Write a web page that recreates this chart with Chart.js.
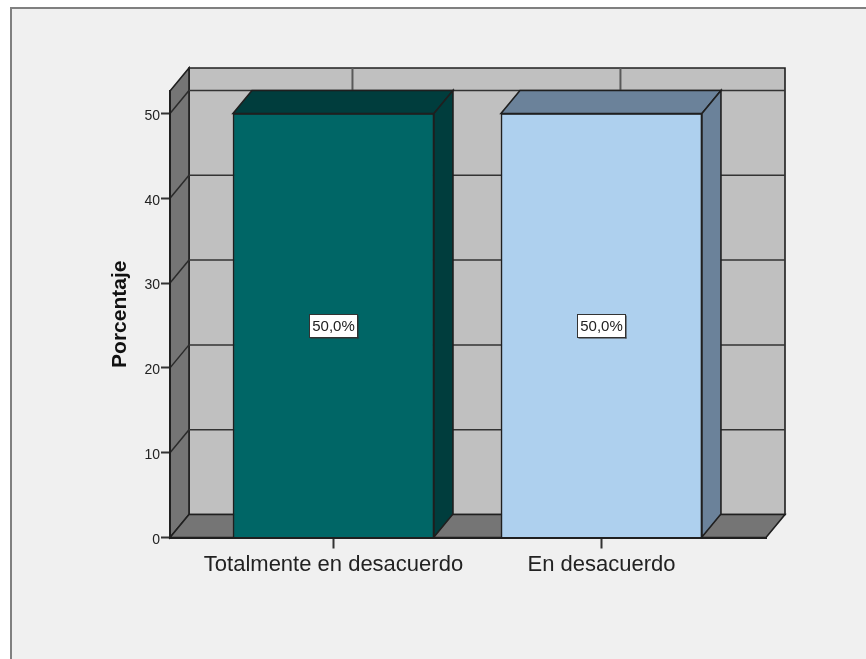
<!DOCTYPE html>
<html>
<head>
<meta charset="utf-8">
<script src="https://cdn.jsdelivr.net/npm/chart.js@4"></script>
<style>
  html, body { margin: 0; padding: 0; background: #fff; overflow: hidden; }
  #frame { position: absolute; left: 10px; top: 7px; right: 0; bottom: 0; background: #f0f0f0;
           border-left: 2px solid #808080; border-top: 2px solid #808080; }
  canvas { position: absolute; left: 0; top: 0; }
</style>
</head>
<body>
<div id="frame"></div>
<canvas id="chart" width="866" height="659"></canvas>
<script>
const categories = ['Totalmente en desacuerdo', 'En desacuerdo'];
const values = [50, 50];
const valueLabels = ['50,0%', '50,0%'];
const yTicks = [0, 10, 20, 30, 40, 50];
const yTop = 52.65;

const frontColors = ['#006666', '#aed0ee'];
const shadeColors = ['#003d3d', '#6b829a'];
const lineColor = '#1f1f1f';
const depthX = 19;
const depthY = 23;

function poly(ctx, pts, fill, stroke, width) {
  ctx.beginPath();
  pts.forEach((p, i) => i ? ctx.lineTo(p[0], p[1]) : ctx.moveTo(p[0], p[1]));
  ctx.closePath();
  if (fill) { ctx.fillStyle = fill; ctx.fill(); }
  ctx.strokeStyle = stroke || lineColor;
  ctx.lineWidth = width || 1.6;
  ctx.stroke();
}

function seg(ctx, x1, y1, x2, y2, color, width) {
  ctx.beginPath();
  ctx.moveTo(x1, y1);
  ctx.lineTo(x2, y2);
  ctx.strokeStyle = color;
  ctx.lineWidth = width;
  ctx.stroke();
}

// back wall, left wall and floor go under the axes
const walls = {
  id: 'walls',
  beforeDraw(chart) {
    const { ctx, chartArea: a, scales } = chart;
    const y = scales.y, x = scales.x;
    ctx.save();
    poly(ctx, [[a.left + depthX, a.top - depthY], [a.right + depthX, a.top - depthY],
               [a.right + depthX, a.bottom - depthY], [a.left + depthX, a.bottom - depthY]], '#c0c0c0');
    poly(ctx, [[a.left, a.top], [a.left + depthX, a.top - depthY],
               [a.left + depthX, a.bottom - depthY], [a.left, a.bottom]], '#757575');
    poly(ctx, [[a.left, a.bottom], [a.left + depthX, a.bottom - depthY],
               [a.right + depthX, a.bottom - depthY], [a.right, a.bottom]], '#757575');
    yTicks.slice(1).forEach(v => {
      const py = y.getPixelForValue(v);
      seg(ctx, a.left, py, a.left + depthX, py - depthY, '#2a2a2a', 1.5);
      seg(ctx, a.left + depthX, py - depthY, a.right + depthX, py - depthY, '#333', 1.5);
    });
    categories.forEach((c, i) => {
      const px = x.getPixelForValue(i) + depthX;
      seg(ctx, px, a.top - depthY, px, a.top, '#5a5a5a', 2);
    });
    ctx.restore();
  }
};

// top and side of each bar, plus the value box in the middle of the front
const barFaces = {
  id: 'barFaces',
  afterDatasetsDraw(chart) {
    const { ctx } = chart;
    const y = chart.scales.y;
    ctx.save();
    chart.getDatasetMeta(0).data.forEach((bar, i) => {
      const l = bar.x - bar.width / 2, r = bar.x + bar.width / 2;
      poly(ctx, [[l, bar.y], [l + depthX, bar.y - depthY], [r + depthX, bar.y - depthY], [r, bar.y]], shadeColors[i]);
      poly(ctx, [[r, bar.y], [r + depthX, bar.y - depthY], [r + depthX, bar.base - depthY], [r, bar.base]], shadeColors[i]);

      const cy = y.getPixelForValue(values[i] / 2);
      const bw = 48, bh = 23;
      const bx = Math.round(bar.x - bw / 2) + 0.5, by = Math.round(cy - bh / 2) + 0.5;
      ctx.fillStyle = '#fff';
      ctx.fillRect(bx, by, bw, bh);
      ctx.strokeStyle = '#333';
      ctx.lineWidth = 1;
      ctx.strokeRect(bx, by, bw, bh);
      seg(ctx, bx + 1, by + bh + 0.5, bx + bw + 1, by + bh + 0.5, '#333', 1);
      seg(ctx, bx + bw + 0.5, by + 1, bx + bw + 0.5, by + bh + 1, '#333', 1);
      ctx.fillStyle = '#222';
      ctx.font = '15px "Liberation Sans"';
      ctx.textAlign = 'center';
      ctx.textBaseline = 'middle';
      ctx.fillText(valueLabels[i], bar.x, cy + 1);
    });
    ctx.restore();
  }
};

new Chart(document.getElementById('chart'), {
  type: 'bar',
  data: {
    datasets: [{
      data: values.map((v, i) => ({ x: i, y: v })),
      backgroundColor: frontColors,
      borderColor: lineColor,
      borderWidth: 1.6,
      barThickness: 201
    }]
  },
  options: {
    responsive: false,
    animation: false,
    events: [],
    layout: { padding: { left: 0, top: 91, right: 100, bottom: 0 } },
    plugins: { legend: { display: false }, tooltip: { enabled: false } },
    scales: {
      x: {
        type: 'linear',
        offset: false,
        // keeps the SPSS spacing: the bars are not centred in equal category bands
        min: -0.61,
        max: 1.614,
        afterBuildTicks: axis => { axis.ticks = categories.map((c, i) => ({ value: i })); },
        afterFit: axis => { axis.height = 121.5; },
        grid: { offset: false, drawOnChartArea: false, drawTicks: true, tickLength: 11, tickColor: '#333', tickWidth: 2 },
        border: { display: true, color: lineColor, width: 2 },
        ticks: {
          maxRotation: 0,
          padding: 3,
          color: '#222',
          font: { family: '"Liberation Sans"', size: 22 },
          callback: v => categories[v]
        }
      },
      y: {
        min: 0,
        max: yTop,
        afterBuildTicks: axis => { axis.ticks = yTicks.map(v => ({ value: v })); },
        afterFit: axis => { axis.width = 170; },
        grid: { drawOnChartArea: false, drawTicks: true, tickLength: 9, tickColor: '#333', tickWidth: 2 },
        border: { display: true, color: lineColor, width: 2 },
        ticks: {
          padding: 1,
          labelOffset: 2.5,
          color: '#222',
          font: { family: '"Liberation Sans"', size: 14 }
        },
        title: {
          display: true,
          text: 'Porcentaje',
          color: '#111',
          font: { family: '"Liberation Sans"', size: 21, weight: 'bold' },
          padding: { top: 108, bottom: 0 }
        }
      }
    }
  },
  plugins: [walls, barFaces]
});
</script>
</body>
</html>
